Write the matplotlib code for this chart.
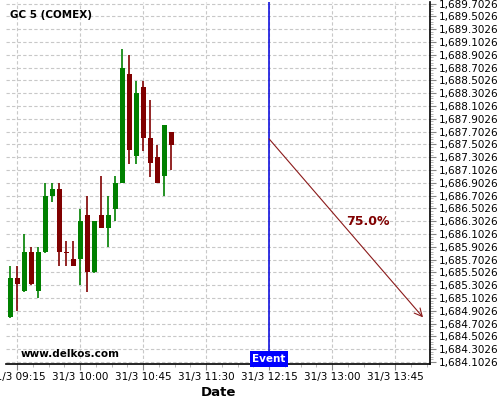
import matplotlib
matplotlib.use("Agg")
import matplotlib.pyplot as plt
import matplotlib.dates as mdates
import matplotlib.transforms as mtransforms
from matplotlib.ticker import FixedLocator, FuncFormatter
import numpy as np
import pandas as pd

# 5 minute candles, GC 5 (COMEX)
start = pd.Timestamp("2015-03-31 09:10")
opens  = [1684.806, 1685.409, 1685.206, 1685.814, 1685.206, 1685.814, 1686.703, 1686.812,
          1685.814, 1685.705, 1685.705, 1686.406, 1685.502, 1686.406, 1686.204, 1686.500,
          1686.901, 1688.604, 1687.315, 1688.402, 1687.611, 1687.310, 1687.003, 1687.700]
closes = [1685.409, 1685.315, 1685.814, 1685.315, 1685.814, 1686.703, 1686.812, 1685.814,
          1685.810, 1685.607, 1686.313, 1685.502, 1686.313, 1686.204, 1686.406, 1686.901,
          1688.698, 1687.409, 1688.308, 1687.611, 1687.206, 1686.900, 1687.809, 1687.498]
highs  = [1685.607, 1685.607, 1686.099, 1685.903, 1685.903, 1686.900, 1686.900, 1686.900,
          1685.996, 1685.996, 1686.495, 1686.703, 1686.313, 1687.003, 1686.703, 1687.003,
          1688.989, 1688.896, 1688.490, 1688.490, 1688.194, 1687.493, 1687.809, 1687.700]
lows   = [1684.790, 1684.905, 1685.195, 1685.304, 1685.108, 1685.800, 1686.604, 1685.607,
          1685.607, 1685.600, 1685.304, 1685.195, 1685.490, 1686.193, 1685.903, 1686.302,
          1686.900, 1687.197, 1687.197, 1687.400, 1686.994, 1686.900, 1686.703, 1687.103]

event_time = pd.Timestamp("2015-03-31 12:15")
arrow_start = 1687.59
arrow_end_time = pd.Timestamp("2015-03-31 14:05")
arrow_end = 1684.80
pct_label = "75.0%"
pct_time = pd.Timestamp("2015-03-31 13:10")
pct_value = 1686.30

x_min = pd.Timestamp("2015-03-31 09:07")
x_max = pd.Timestamp("2015-03-31 14:10")
y_min, y_max = 1684.071, 1689.729

GREEN = "#008000"
RED = "#800000"

fig = plt.figure(figsize=(5, 4), dpi=100)
ax = fig.add_axes([6 / 500, 36 / 400, 424 / 500, 362 / 400])

times = [start + pd.Timedelta(minutes=5 * i) for i in range(len(opens))]
xs = mdates.date2num(times)
minute = 1.0 / (24 * 60)
body_w = 3.6 * minute

for x, o, h, l, c in zip(xs, opens, highs, lows, closes):
    col = GREEN if c >= o else RED
    ax.vlines(x, l, h, color=col, lw=1.2, zorder=3)
    bottom = min(o, c)
    height = max(abs(c - o), 0.012)
    ax.bar(x, height, width=body_w, bottom=bottom, color=col, zorder=4)

# event line and forecast arrow
ex = mdates.date2num(event_time)
ax.axvline(ex, color="#0000dd", lw=1.1, zorder=5)
ax.annotate("", xy=(mdates.date2num(arrow_end_time), arrow_end),
            xytext=(ex, arrow_start),
            arrowprops=dict(arrowstyle="->", color="#8b1a1a", lw=0.8,
                            mutation_scale=14, shrinkA=0, shrinkB=0), zorder=6)
ax.text(mdates.date2num(pct_time), pct_value, pct_label, color="#800000",
        fontsize=9, fontweight="bold", ha="left", va="center")

trans = mtransforms.blended_transform_factory(ax.transData, ax.transAxes)
ax.text(ex, 0.0, "Event", transform=trans, ha="center", va="bottom",
        color="white", fontsize=7.5, fontweight="bold", zorder=7,
        bbox=dict(boxstyle="square,pad=0.25", facecolor="#0000ff", edgecolor="none"))

ax.text(15 / 424, 10 / 362, "www.delkos.com", transform=ax.transAxes,
        fontsize=7.5, fontweight="bold", ha="left", va="center")
fig.text(10 / 500, 1 - 15 / 400, "GC 5 (COMEX)", fontsize=7.5, fontweight="bold",
         ha="left", va="center")

ax.set_xlim(mdates.date2num(x_min), mdates.date2num(x_max))
ax.set_ylim(y_min, y_max)

# x ticks every 45 minutes, minor every quarter of that
t0 = pd.Timestamp("2015-03-31 09:15")
major_x = mdates.date2num([t0 + pd.Timedelta(minutes=45 * k) for k in range(7)])
minor_x = mdates.date2num([t0 + pd.Timedelta(minutes=11.25 * k) for k in range(-1, 27)])
ax.xaxis.set_major_locator(FixedLocator(major_x))
ax.xaxis.set_minor_locator(FixedLocator(minor_x))

def fmt_date(v, pos):
    d = mdates.num2date(v)
    return "%d/%d %s" % (d.day, d.month, d.strftime("%H:%M"))

ax.xaxis.set_major_formatter(FuncFormatter(fmt_date))

major_y = np.arange(1684.1026, 1689.75, 0.2)
minor_y = np.arange(1684.1026 - 0.2, 1689.8, 0.04)
ax.yaxis.set_major_locator(FixedLocator(major_y))
ax.yaxis.set_minor_locator(FixedLocator(minor_y))
ax.yaxis.set_major_formatter(FuncFormatter(lambda v, p: "{:,.4f}".format(v)))
ax.yaxis.tick_right()

ax.tick_params(axis="both", which="major", labelsize=7.5, color="#888888", length=4, pad=2)
ax.tick_params(axis="both", which="minor", color="#aaaaaa", length=2)

ax.grid(True, which="major", color="#c8c8c8", linestyle=(0, (3, 2)), lw=0.8)
ax.set_axisbelow(True)

for s in ["top", "left"]:
    ax.spines[s].set_visible(False)
for s in ["right", "bottom"]:
    ax.spines[s].set_color("black")
    ax.spines[s].set_linewidth(1.2)

ax.set_xlabel("Date", fontsize=9.5, fontweight="bold", labelpad=3)

fig.savefig("out.png", dpi=100)
